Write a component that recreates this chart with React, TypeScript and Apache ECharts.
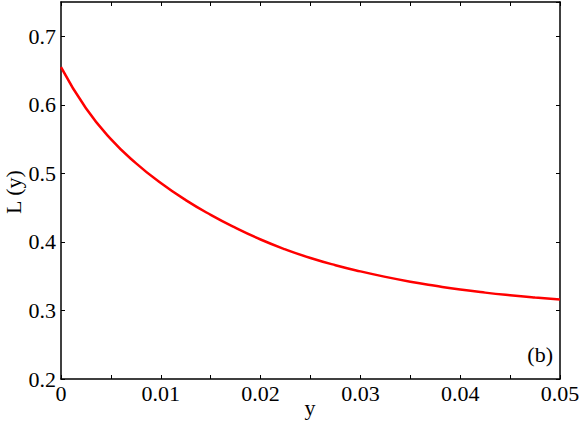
import React, { useEffect, useRef } from "react";
import * as echarts from "echarts";

const xValues = [0, 0.0025, 0.005, 0.0075, 0.01, 0.0125, 0.015, 0.0175, 0.02, 0.0225, 0.025, 0.0275, 0.03, 0.0325, 0.035, 0.0375, 0.04, 0.0425, 0.045, 0.0475, 0.05];
const lValues = [0.655, 0.595, 0.55, 0.515, 0.486, 0.461, 0.4395, 0.4205, 0.4035, 0.389, 0.3765, 0.366, 0.357, 0.349, 0.342, 0.336, 0.3305, 0.326, 0.3222, 0.3189, 0.316];
const xTitle = "y";
const yTitle = "L (y)";
const panelLabel = "(b)";

const FONT = "Liberation Serif";

export default function App() {
  const ref = useRef<HTMLDivElement>(null);
  useEffect(() => {
    if (!ref.current) return;
    const chart = echarts.init(ref.current, null, { renderer: "svg" });
    const axisLine = { show: true, onZero: false, lineStyle: { color: "#000", width: 1.5 } };
    const tick = { show: true, inside: true, length: 4, lineStyle: { color: "#000", width: 1 } };
    const minor = { show: true, splitNumber: 2, length: 4, lineStyle: { color: "#000", width: 1 } };
    chart.setOption({
      animation: false,
      backgroundColor: "#fff",
      grid: { left: 61, right: 21, top: 2, bottom: 44, containLabel: false, outerBoundsMode: "none" },
      xAxis: [
        {
          type: "value", min: 0, max: 0.05, interval: 0.01, position: "bottom",
          axisLine, axisTick: tick, minorTick: minor, splitLine: { show: false },
          axisLabel: { color: "#000", fontFamily: FONT, fontSize: 22, margin: 3 },
        },
        {
          type: "value", min: 0, max: 0.05, interval: 0.01, position: "top",
          axisLine, axisTick: tick, minorTick: minor, splitLine: { show: false },
          axisLabel: { show: false },
        },
      ],
      yAxis: [
        {
          type: "value", min: 0.2, max: 0.75, interval: 0.1, position: "left",
          axisLine, axisTick: tick, splitLine: { show: false },
          axisLabel: { color: "#000", fontFamily: FONT, fontSize: 22, margin: 5, showMaxLabel: false },
        },
        {
          type: "value", min: 0.2, max: 0.75, interval: 0.1, position: "right",
          axisLine, axisTick: tick, splitLine: { show: false },
          axisLabel: { show: false },
        },
      ],
      series: [
        {
          type: "line",
          data: xValues.map((x, i) => [x, lValues[i]]),
          smooth: true,
          showSymbol: false,
          lineStyle: { color: "#ff0000", width: 2.5 },
          xAxisIndex: 0,
          yAxisIndex: 0,
        },
      ],
      graphic: [
        {
          type: "text",
          right: 28,
          top: 343,
          style: { text: panelLabel, fill: "#000", font: `22px "${FONT}"` },
        },
        {
          type: "text",
          x: 310,
          y: 407,
          style: { text: xTitle, fill: "#000", font: `22px "${FONT}"`, align: "center", verticalAlign: "middle" },
        },
        {
          type: "text",
          x: 13,
          y: 192,
          rotation: Math.PI / 2,
          style: { text: yTitle, fill: "#000", font: `22px "${FONT}"`, align: "center", verticalAlign: "middle" },
        },
      ],
    });
    return () => chart.dispose();
  }, []);
  return <div ref={ref} style={{ position: "fixed", left: 0, top: 0, width: 581, height: 423 }} />;
}
